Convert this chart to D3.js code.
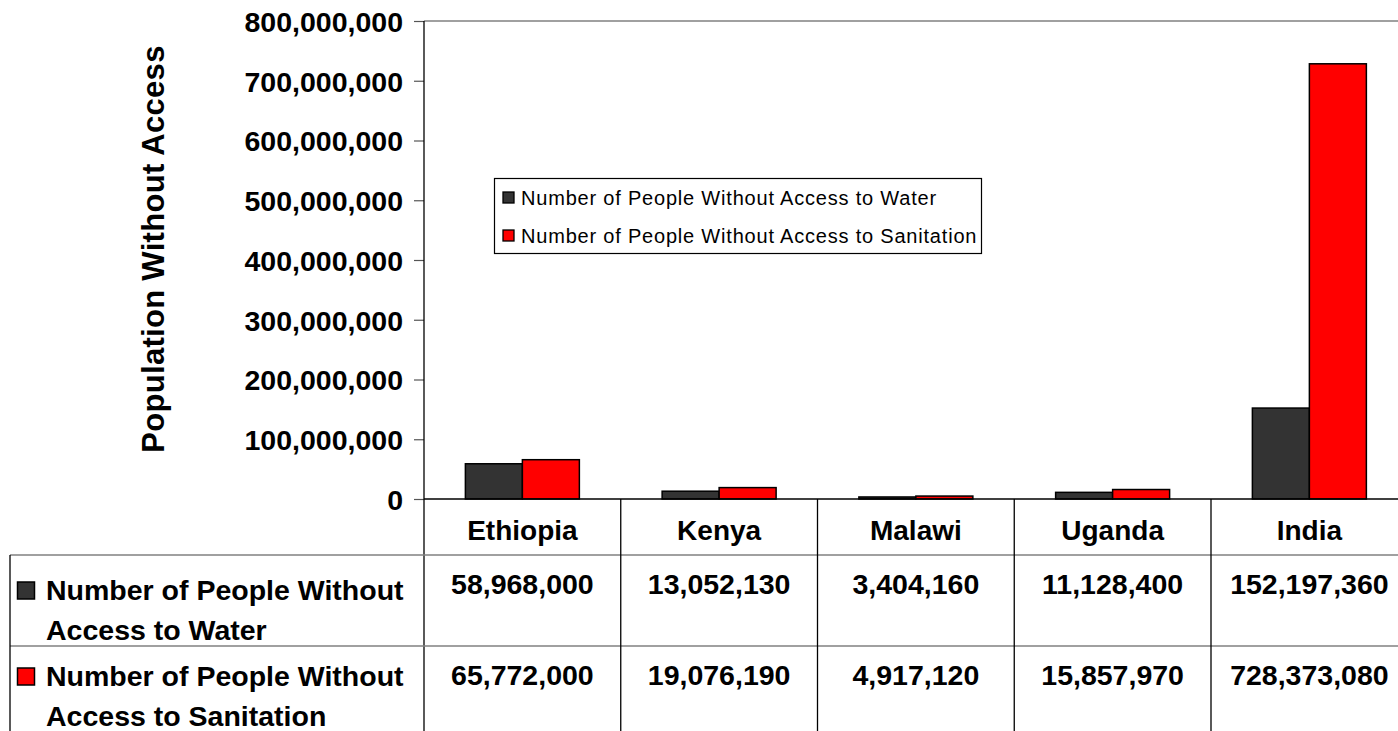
<!DOCTYPE html>
<html><head><meta charset="utf-8">
<script src="https://cdn.jsdelivr.net/npm/d3@7"></script>
<style>
html,body{margin:0;padding:0;background:#fff;}
svg{display:block;}
</style></head>
<body>
<svg id="chart" width="1398" height="731"></svg>
<script>
const categories = ["Ethiopia", "Kenya", "Malawi", "Uganda", "India"];
const seriesNames = ["Number of People Without Access to Water", "Number of People Without Access to Sanitation"];
const rowLabelLines = [["Number of People Without", "Access to Water"], ["Number of People Without", "Access to Sanitation"]];
const waterValues = [58968000, 13052130, 3404160, 11128400, 152197360];
const sanitationValues = [65772000, 19076190, 4917120, 15857970, 728373080];
const yTicks = [0, 100000000, 200000000, 300000000, 400000000, 500000000, 600000000, 700000000, 800000000];
const colors = ["#333333", "#ff0000"];
const yTitle = "Population Without Access";

(function () {
const svg = d3.select("#chart");
const L = 424, band = 196.75, R = L + band * categories.length;
const plotTop = 21, base = 499;
const tableTop = base, headerBottom = 555, row1Bottom = 646, tableBottom = 740, tableLeft = 10;
const boldFont = "'Liberation Sans', Arial, sans-serif";

const x = d3.scaleBand().domain(categories).range([L, R]).padding(0);
const xs = d3.scaleBand().domain([0, 1]).range([0, x.bandwidth()]).paddingInner(0).paddingOuter(0.726);
const y = d3.scaleLinear().domain([0, 800000000]).range([base, plotTop]);
const series = [waterValues, sanitationValues];

svg.append("line").attr("x1", L).attr("x2", R).attr("y1", plotTop).attr("y2", plotTop)
  .attr("stroke", "#808080").attr("stroke-width", 1.5);

const yAxis = d3.axisLeft(y).tickValues(yTicks).tickFormat(d3.format(",")).tickSize(10).tickPadding(11);
const gy = svg.append("g").attr("transform", `translate(${L},0)`).call(yAxis);
gy.select(".domain").remove();
gy.selectAll(".tick line").attr("stroke", "#555").attr("stroke-width", 1.2);
gy.selectAll(".tick text").attr("font-family", boldFont).attr("font-weight", "bold")
  .attr("font-size", 28.5).attr("fill", "#000").attr("dy", "0.36em");

categories.forEach((c, i) => {
  series.forEach((vals, s) => {
    svg.append("rect")
      .attr("x", x(c) + xs(s)).attr("width", xs.bandwidth())
      .attr("y", y(vals[i])).attr("height", base - y(vals[i]))
      .attr("fill", colors[s]).attr("stroke", "#000").attr("stroke-width", 1.5);
  });
});

svg.append("line").attr("x1", L).attr("x2", R).attr("y1", base).attr("y2", base)
  .attr("stroke", "#000").attr("stroke-width", 1.3);
svg.append("line").attr("x1", L).attr("x2", L).attr("y1", plotTop).attr("y2", tableBottom)
  .attr("stroke", "#000").attr("stroke-width", 1.3);

svg.append("line").attr("x1", tableLeft).attr("x2", R).attr("y1", headerBottom).attr("y2", headerBottom)
  .attr("stroke", "#808080").attr("stroke-width", 1.5);
svg.append("line").attr("x1", tableLeft).attr("x2", R).attr("y1", row1Bottom).attr("y2", row1Bottom)
  .attr("stroke", "#808080").attr("stroke-width", 1.5);
svg.append("line").attr("x1", tableLeft).attr("x2", tableLeft).attr("y1", headerBottom).attr("y2", tableBottom)
  .attr("stroke", "#000").attr("stroke-width", 1.3);
categories.slice(1).forEach(c => {
  svg.append("line").attr("x1", x(c)).attr("x2", x(c)).attr("y1", tableTop).attr("y2", tableBottom)
    .attr("stroke", "#000").attr("stroke-width", 1.3);
});

categories.forEach(c => {
  svg.append("text").attr("x", x(c) + x.bandwidth() / 2).attr("y", 540)
    .attr("text-anchor", "middle").attr("font-family", boldFont).attr("font-weight", "bold")
    .attr("font-size", 28).text(c);
});

const fmt = d3.format(",");
const rowBaselines = [594, 685];
series.forEach((vals, s) => {
  categories.forEach((c, i) => {
    svg.append("text").attr("x", x(c) + x.bandwidth() / 2).attr("y", rowBaselines[s])
      .attr("text-anchor", "middle").attr("font-family", boldFont).attr("font-weight", "bold")
      .attr("font-size", 28.5).text(fmt(vals[i]));
  });
});

const rowLabelBase = [600, 686];
series.forEach((vals, s) => {
  svg.append("rect").attr("x", 17.5).attr("y", rowLabelBase[s] - 18).attr("width", 17).attr("height", 17)
    .attr("fill", colors[s]).attr("stroke", "#000").attr("stroke-width", 1.5);
  rowLabelLines[s].forEach((line, k) => {
    svg.append("text").attr("x", 46).attr("y", rowLabelBase[s] + k * 40)
      .attr("font-family", boldFont).attr("font-weight", "bold")
      .attr("font-size", 28.5).text(line);
  });
});

svg.append("text").attr("transform", `translate(164,249) rotate(-90)`)
  .attr("text-anchor", "middle").attr("font-family", boldFont).attr("font-weight", "bold")
  .attr("font-size", 31).attr("letter-spacing", 0.3).text(yTitle);

const lg = svg.append("g");
lg.append("rect").attr("x", 494.5).attr("y", 178.5).attr("width", 487).attr("height", 75)
  .attr("fill", "#fff").attr("stroke", "#000").attr("stroke-width", 1.2);
seriesNames.forEach((n, s) => {
  const cy = 198 + s * 38;
  lg.append("rect").attr("x", 503).attr("y", cy - 6).attr("width", 11).attr("height", 11)
    .attr("fill", colors[s]).attr("stroke", "#000").attr("stroke-width", 1.3);
  lg.append("text").attr("x", 521).attr("y", cy + 7)
    .attr("font-family", "'Liberation Sans', Arial, sans-serif").attr("font-size", 20)
    .attr("letter-spacing", 0.8).text(n);
});
})();
</script>
</body></html>
